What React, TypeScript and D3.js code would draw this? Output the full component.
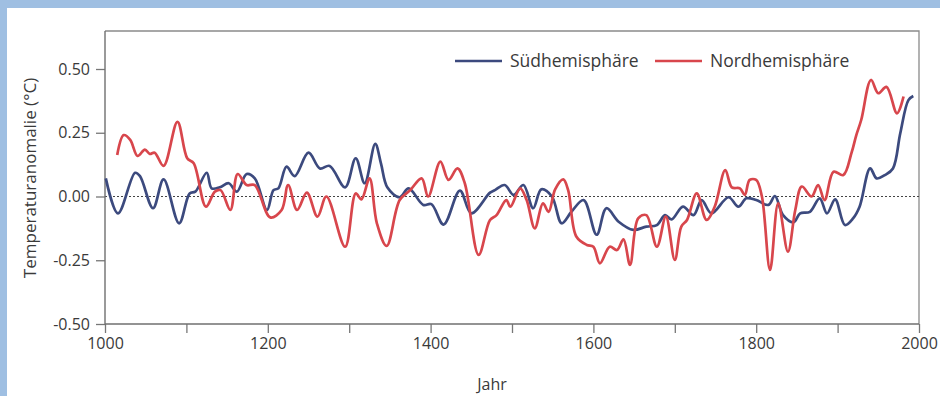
import * as d3 from 'd3';
import { useEffect, useRef } from 'react';

// Südhemisphäre (blue)
const southYears = [1001, 1016, 1037, 1043, 1059, 1072, 1091, 1104, 1111, 1125, 1131, 1141, 1152, 1162, 1174, 1184, 1199, 1207, 1213, 1223, 1233, 1250, 1264, 1276, 1295, 1308, 1319, 1332, 1339, 1347, 1362, 1373, 1391, 1401, 1416, 1436, 1450, 1473, 1479, 1491, 1502, 1514, 1526, 1536, 1549, 1561, 1573, 1588, 1604, 1616, 1631, 1649, 1665, 1678, 1688, 1696, 1710, 1723, 1733, 1745, 1766, 1778, 1788, 1800, 1815, 1823, 1833, 1846, 1854, 1866, 1878, 1887, 1897, 1909, 1919, 1927, 1940, 1948, 1958, 1968, 1977, 1987, 1993];
const southValues = [0.071, -0.066, 0.093, 0.08, -0.046, 0.067, -0.105, 0.012, 0.019, 0.093, 0.032, 0.036, 0.052, 0.019, 0.088, 0.071, -0.053, 0.025, 0.032, 0.117, 0.08, 0.172, 0.11, 0.12, 0.036, 0.15, 0.052, 0.206, 0.13, 0.035, -0.003, 0.032, -0.033, -0.03, -0.11, 0.023, -0.066, 0.015, 0.025, 0.045, 0.006, 0.045, -0.046, 0.028, 0.0, -0.105, -0.06, -0.014, -0.15, -0.046, -0.099, -0.131, -0.118, -0.112, -0.073, -0.09, -0.04, -0.073, -0.014, -0.066, -0.003, -0.04, -0.007, -0.014, -0.033, 0.002, -0.073, -0.101, -0.066, -0.06, -0.007, -0.066, -0.011, -0.112, -0.086, -0.04, 0.11, 0.071, 0.084, 0.11, 0.248, 0.378, 0.394];

// Nordhemisphäre (red)
const northYears = [1015, 1023, 1031, 1040, 1049, 1055, 1061, 1072, 1089, 1101, 1109, 1124, 1135, 1142, 1154, 1163, 1174, 1184, 1203, 1217, 1225, 1236, 1248, 1261, 1272, 1295, 1308, 1315, 1325, 1334, 1346, 1362, 1375, 1389, 1397, 1412, 1422, 1433, 1442, 1459, 1473, 1481, 1493, 1498, 1510, 1518, 1528, 1538, 1545, 1553, 1563, 1569, 1579, 1592, 1600, 1608, 1620, 1629, 1637, 1645, 1655, 1665, 1678, 1689, 1700, 1708, 1715, 1727, 1739, 1749, 1762, 1770, 1780, 1786, 1792, 1800, 1807, 1817, 1827, 1839, 1848, 1856, 1868, 1876, 1884, 1895, 1907, 1917, 1923, 1929, 1941, 1950, 1960, 1973, 1981];
const northValues = [0.163, 0.241, 0.222, 0.159, 0.184, 0.167, 0.172, 0.12, 0.293, 0.15, 0.13, -0.04, 0.019, 0.025, -0.053, 0.088, 0.045, 0.045, -0.082, -0.053, 0.045, -0.053, 0.015, -0.079, 0.0, -0.197, 0.012, -0.011, 0.071, -0.105, -0.194, -0.014, 0.025, 0.071, 0.0, 0.137, 0.065, 0.11, 0.052, -0.229, -0.092, -0.073, -0.014, -0.04, 0.032, -0.014, -0.125, -0.027, -0.06, 0.028, 0.067, 0.025, -0.157, -0.19, -0.197, -0.262, -0.197, -0.21, -0.168, -0.268, -0.086, -0.073, -0.197, -0.079, -0.249, -0.118, -0.092, 0.012, -0.092, -0.04, 0.104, 0.036, 0.032, 0.006, 0.065, 0.065, 0.0, -0.288, -0.027, -0.216, -0.053, 0.039, 0.0, 0.045, -0.014, 0.097, 0.084, 0.17, 0.241, 0.3, 0.457, 0.405, 0.43, 0.326, 0.392];

const yTicks = [-0.5, -0.25, 0, 0.25, 0.5];
const xTicks = d3.range(1000, 2001, 100);
const legendLabels = ['Südhemisphäre', 'Nordhemisphäre'];

const width = 940;
const height = 396;
const blue = '#3c4a7e';
const red = '#d8464c';
const font = "'Open Sans', sans-serif";

const xScale = d3.scaleLinear().domain([1000, 2000]).range([105, 919]);
const yScale = d3.scaleLinear().domain([-0.5, 0.5]).range([324, 69]);
const plotTop = 31;

const App = () => {
    const ref = useRef<SVGSVGElement | null>(null);

    useEffect(() => {
        const svg = d3.select(ref.current);
        svg.selectAll('*').remove();

        // scan frame
        svg.append('rect').attr('x', 0).attr('y', 0).attr('width', width).attr('height', 8).attr('fill', '#9fbfe2');
        svg.append('rect').attr('x', 0).attr('y', 0).attr('width', 7).attr('height', height).attr('fill', '#9fbfe2');

        // top + right border
        svg.append('path')
            .attr('d', `M${xScale(1000)},${plotTop}H${xScale(2000)}V${yScale(-0.5)}`)
            .attr('fill', 'none')
            .attr('stroke', '#8a8a8a')
            .attr('stroke-width', 1.3);

        // zero line
        svg.append('line')
            .attr('x1', xScale(1000)).attr('x2', xScale(2000))
            .attr('y1', yScale(0)).attr('y2', yScale(0))
            .attr('stroke', '#444')
            .attr('stroke-width', 1)
            .attr('stroke-dasharray', '2,2');

        // plain hyphen minus like the original
        const fmt = (d: any) => d3.format('.2f')(d).replace('\u2212', '-');

        const yAxis = svg.append('g')
            .attr('transform', `translate(${xScale(1000)},0)`)
            .call(d3.axisLeft(yScale).tickValues(yTicks).tickFormat(fmt).tickSize(9).tickPadding(6));
        yAxis.select('.domain').remove();

        const xAxis = svg.append('g')
            .attr('transform', `translate(0,${yScale(-0.5)})`)
            .call(d3.axisBottom(xScale).tickValues(xTicks)
                .tickFormat((d: any) => (d % 200 === 0 ? String(d) : ''))
                .tickSize(9).tickPadding(5));
        xAxis.select('.domain').remove();

        [yAxis, xAxis].forEach(g => {
            g.selectAll('line').attr('stroke', '#777').attr('stroke-width', 1.3);
            g.selectAll('text').attr('font-family', font).attr('font-size', 16).attr('fill', '#3a3a3a');
        });

        // axis lines
        svg.append('path')
            .attr('d', `M${xScale(1000)},${plotTop}V${yScale(-0.5)}H${xScale(2000)}`)
            .attr('fill', 'none')
            .attr('stroke', '#707070')
            .attr('stroke-width', 1.4);

        const line = d3.line<[number, number]>()
            .x(d => xScale(d[0]))
            .y(d => yScale(d[1]))
            .curve(d3.curveCatmullRom.alpha(0.5));

        const series = [
            { pts: southYears.map((y, i) => [y, southValues[i]] as [number, number]), color: blue },
            { pts: northYears.map((y, i) => [y, northValues[i]] as [number, number]), color: red },
        ];

        // red drawn over blue
        svg.selectAll('.gLine')
            .data(series)
            .enter()
            .append('path')
            .attr('class', 'gLine')
            .attr('d', d => line(d.pts))
            .attr('fill', 'none')
            .attr('stroke', d => d.color)
            .attr('stroke-width', 2.7)
            .attr('stroke-linejoin', 'round');

        // legend
        const legend = svg.append('g');
        const legendX = [455, 655];
        legendLabels.forEach((label, i) => {
            legend.append('line')
                .attr('x1', legendX[i]).attr('x2', legendX[i] + 47)
                .attr('y1', 61).attr('y2', 61)
                .attr('stroke', i === 0 ? blue : red)
                .attr('stroke-width', 2.7);
            legend.append('text')
                .attr('x', legendX[i] + 55)
                .attr('y', 67)
                .attr('font-family', font)
                .attr('font-size', 17.5)
                .attr('fill', '#3a3a3a')
                .text(label);
        });

        svg.append('text')
            .attr('transform', `translate(36,178) rotate(-90)`)
            .attr('text-anchor', 'middle')
            .attr('font-family', font)
            .attr('font-size', 17)
            .attr('fill', '#3a3a3a')
            .text('Temperaturanomalie (°C)');

        svg.append('text')
            .attr('x', 492)
            .attr('y', 390)
            .attr('text-anchor', 'middle')
            .attr('font-family', font)
            .attr('font-size', 16)
            .attr('fill', '#3a3a3a')
            .text('Jahr');
    }, []);

    return (
        <svg ref={ref} width={width} height={height}
            style={{ position: 'fixed', left: 0, top: 0, background: '#fff' }} />
    );
};

export default App;
